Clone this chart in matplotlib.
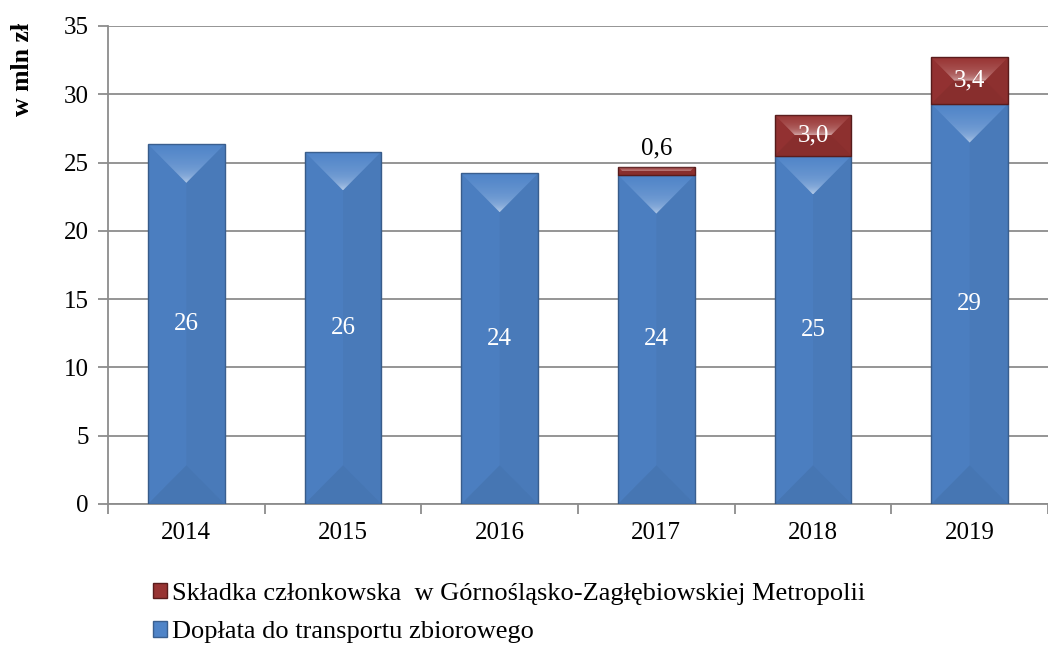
import numpy as np
import matplotlib.pyplot as plt
from matplotlib.patches import Polygon

plt.rcParams['font.family'] = ['Liberation Serif', 'DejaVu Serif']

years = ['2014', '2015', '2016', '2017', '2018', '2019']
doplata = [26.35, 25.8, 24.2, 24.1, 25.5, 29.3]
skladka = [0.0, 0.0, 0.0, 0.6, 3.0, 3.4]
doplata_labels = ['26', '26', '24', '24', '25', '29']

BLUE = '#4f84c8'
RED = '#983433'
GRID = '#8c8c8c'

W, H = 1048, 648
fig = plt.figure(figsize=(W / 100, H / 100), dpi=100)
ax = fig.add_axes([108 / W, 1 - 504 / H, 940 / W, 478 / H])
ax.set_xlim(-0.5, 5.45)
ax.set_ylim(0, 35)
ax.set_autoscale_on(False)

# pixels per data unit, used for the bevel depth
ppu_x = 940 / (5.45 + 0.5)
ppu_y = 478 / 35.0

x = np.arange(len(years))
bw = 0.49
b1 = ax.bar(x, doplata, width=bw, color=BLUE, edgecolor='#3a5f8f', linewidth=1.0, zorder=3)
red_lw = [1.0 if v > 0 else 0 for v in skladka]
b2 = ax.bar(x, skladka, width=bw, bottom=doplata, color=RED, edgecolor='#5a1c1c',
            linewidth=red_lw, zorder=3)


def bevel(p):
    x0, y0 = p.get_x(), p.get_y()
    w, h = p.get_width(), p.get_height()
    if h <= 0:
        return
    x1, y1 = x0 + w, y0 + h
    dpx = min(w * ppu_x / 2, h * ppu_y / 2)
    dx, dy = dpx / ppu_x, dpx / ppu_y
    # top facet with gradient highlight
    top = Polygon([(x0, y1), (x1, y1), (x1 - dx, y1 - dy), (x0 + dx, y1 - dy)],
                  closed=True, facecolor='none', edgecolor='none', zorder=4)
    ax.add_patch(top)
    grad = np.ones((64, 2, 4))
    t = np.linspace(0, 1, 64)[:, None]
    grad[..., 3] = 0.35 * np.exp(-t / 0.18) + 0.22 * (1 - t)
    im = ax.imshow(grad, extent=(x0, x1, y1, y1 - dy), origin='upper',
                   aspect='auto', zorder=4, interpolation='bilinear')
    im.set_clip_path(top)
    # bottom facet darker
    ax.add_patch(Polygon([(x0, y0), (x1, y0), (x1 - dx, y0 + dy), (x0 + dx, y0 + dy)],
                         closed=True, facecolor='black', alpha=0.10,
                         edgecolor='none', zorder=4))
    # side facets slightly darker
    ax.add_patch(Polygon([(x0, y0), (x0 + dx, y0 + dy), (x0 + dx, y1 - dy), (x0, y1)],
                         closed=True, facecolor='black', alpha=0.04,
                         edgecolor='none', zorder=4))
    ax.add_patch(Polygon([(x1, y0), (x1 - dx, y0 + dy), (x1 - dx, y1 - dy), (x1, y1)],
                         closed=True, facecolor='black', alpha=0.07,
                         edgecolor='none', zorder=4))


for p in b1:
    bevel(p)
for p in b2:
    bevel(p)

# labels
for i, p in enumerate(b1):
    ax.text(p.get_x() + p.get_width() / 2, doplata[i] / 2, doplata_labels[i],
            ha='center', va='center', color='white', fontsize=18, zorder=6)
for i, p in enumerate(b2):
    v = skladka[i]
    if v <= 0:
        continue
    txt = f'{v:.1f}'.replace('.', ',')
    cx = p.get_x() + p.get_width() / 2
    if v < 1:
        ax.annotate(txt, (cx, doplata[i] + v), xytext=(0, 5), textcoords='offset points',
                    ha='center', va='bottom', color='black', fontsize=18, zorder=6)
    else:
        ax.text(cx, doplata[i] + v / 2, txt, ha='center', va='center',
                color='white', fontsize=18, zorder=6)

# axes styling
ax.set_yticks(np.arange(0, 36, 5))
ax.yaxis.grid(True, color=GRID, linewidth=1.3, zorder=0)
ax.set_axisbelow(True)
ax.set_xticks(x)
ax.set_xticklabels(years)
ax.set_xticks(np.arange(-0.5, 5.6, 1), minor=True)
ax.tick_params(axis='x', which='major', length=0, pad=13, labelsize=18)
ax.tick_params(axis='x', which='minor', length=7, width=1.3, color=GRID, direction='out')
ax.tick_params(axis='y', length=7, width=1.3, color=GRID, direction='out', pad=7,
               labelsize=18)
for s in ['top', 'right']:
    ax.spines[s].set_visible(False)
for s in ['left', 'bottom']:
    ax.spines[s].set_color(GRID)
    ax.spines[s].set_linewidth(1.3)

fig.text(0.021, 0.965, 'w mln zł', rotation=90, ha='center', va='top',
         fontsize=18.5, fontweight='bold')

leg = fig.legend([b2[-1], b1[-1]],
                 ['Składka członkowska  w Górnośląsko-Zagłębiowskiej Metropolii',
                  'Dopłata do transportu zbiorowego'],
                 loc='upper left', bbox_to_anchor=(142 / W, 1 - 572 / H),
                 frameon=False, fontsize=19, handlelength=0.55, handleheight=0.55,
                 handletextpad=0.2, labelspacing=0.6, borderaxespad=0)

fig.savefig('out.png', dpi=100)
